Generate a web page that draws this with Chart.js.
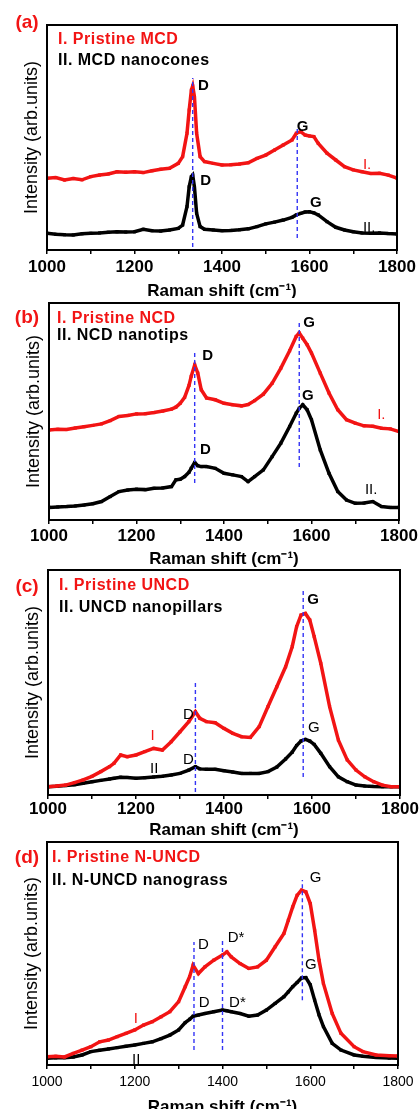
<!DOCTYPE html>
<html>
<head>
<meta charset="utf-8">
<script src="https://cdn.jsdelivr.net/npm/chart.js@4.4.0/dist/chart.umd.min.js"></script>
<style>
    html, body { margin: 0; padding: 0; background: #fff; overflow: hidden; }
    #page { position: relative; width: 420px; height: 1109px; overflow: hidden; }
    canvas { position: absolute; left: 0; }
</style>
</head>
<body>
<div id="page">
    <canvas id="chartA" width="420" height="298" style="top:0px"></canvas>
    <canvas id="chartB" width="420" height="272" style="top:296px"></canvas>
    <canvas id="chartC" width="420" height="280" style="top:563px"></canvas>
    <canvas id="chartD" width="420" height="280" style="top:834px"></canvas>
</div>
<script>
// ---- data (Raman shift in cm-1, intensity in arbitrary units, offset per curve) ----

// (a) MCD
const shiftA = [1000, 1020, 1040, 1060, 1080, 1100, 1120, 1140, 1160, 1180, 1200, 1220, 1240, 1260, 1280,
    1300, 1310, 1320, 1325, 1330, 1333, 1337, 1342, 1350, 1360, 1380, 1400, 1420, 1440, 1460, 1480, 1500,
    1520, 1540, 1560, 1570, 1580, 1590, 1600, 1610, 1620, 1640, 1660, 1680, 1700, 1720, 1740, 1760, 1780, 1800];
const pristineA = [31.9, 32.2, 31.1, 31.8, 31.2, 32.6, 33.3, 33.8, 34.8, 34.6, 34.8, 34.4, 35.2, 35.9, 36.3,
    38.5, 41.5, 51.9, 62.2, 71.1, 72.9, 68.1, 51.9, 41.5, 39.3, 38.5, 37.8, 37.9, 38.2, 38.8, 40.7, 42.2,
    44.4, 46.7, 48.9, 51.9, 52.6, 51.1, 50.7, 50.4, 47.4, 43.0, 40.0, 37.0, 35.6, 34.8, 34.0, 34.1, 33.3, 31.9];
const etchedA = [7.4, 7.0, 6.8, 6.7, 7.2, 7.4, 7.6, 7.9, 8.1, 8.0, 8.1, 9.2, 8.6, 8.4, 8.9,
    9.6, 11.1, 19.3, 28.1, 32.6, 33.3, 28.0, 16.3, 10.4, 9.2, 8.9, 8.6, 8.7, 9.0, 9.4, 10.4, 11.6,
    12.4, 13.3, 14.5, 15.6, 16.3, 16.9, 17.0, 16.5, 15.6, 12.6, 10.1, 8.9, 8.1, 7.6, 7.4, 7.6, 7.3, 7.1];
const peaksA = [1333, 1572];

// (b) NCD
const shiftB = [1000, 1020, 1040, 1060, 1080, 1100, 1120, 1140, 1160, 1180, 1200, 1220, 1240, 1260, 1280,
    1290, 1300, 1310, 1320, 1325, 1333, 1340, 1348, 1360, 1380, 1400, 1420, 1440, 1455, 1470, 1490, 1510,
    1530, 1550, 1565, 1572, 1580, 1590, 1600, 1620, 1640, 1660, 1680, 1700, 1720, 1740, 1760, 1780, 1800];
const pristineB = [41.5, 41.8, 41.7, 42.4, 43.0, 43.6, 44.3, 45.8, 47.7, 48.2, 48.9, 49.0, 49.5, 50.2, 51.1,
    52.0, 53.8, 56.5, 62.0, 66.2, 71.5, 67.7, 60.0, 56.2, 55.4, 53.8, 53.1, 52.6, 53.2, 55.0, 58.0, 63.0,
    70.0, 78.0, 84.6, 86.2, 83.8, 80.8, 76.9, 67.7, 58.5, 50.8, 46.2, 44.6, 43.4, 43.2, 42.3, 42.0, 40.8];
const etchedB = [5.8, 6.0, 6.2, 6.5, 6.9, 7.5, 8.5, 10.8, 13.1, 13.8, 14.2, 14.0, 14.6, 14.8, 15.4,
    18.5, 18.8, 20.0, 22.0, 23.8, 26.5, 25.0, 24.6, 24.6, 23.8, 21.5, 20.8, 20.0, 17.7, 20.0, 23.1, 29.2,
    35.4, 43.1, 49.2, 51.5, 53.1, 50.8, 46.2, 32.3, 21.5, 13.1, 9.2, 7.7, 7.8, 8.5, 6.2, 5.8, 5.8];
const peaksB = [1333, 1572];

// (c) UNCD
const shiftC = [1000, 1020, 1040, 1060, 1080, 1100, 1120, 1140, 1150, 1165, 1180, 1200, 1220, 1240, 1260,
    1280, 1300, 1320, 1335, 1345, 1360, 1380, 1400, 1420, 1440, 1460, 1480, 1500, 1520, 1540, 1555, 1565,
    1575, 1585, 1595, 1605, 1620, 1640, 1660, 1680, 1700, 1720, 1740, 1760, 1780, 1800];
const pristineC = [3.7, 4.0, 4.4, 5.5, 6.7, 8.3, 10.4, 12.6, 14.1, 17.8, 17.0, 17.8, 19.3, 20.7, 20.0,
    23.7, 28.1, 32.6, 37.0, 34.1, 32.6, 32.1, 29.6, 27.4, 25.9, 25.6, 30.4, 39.3, 48.1, 57.0, 65.9, 74.8,
    80.0, 80.7, 77.8, 70.4, 58.5, 39.3, 24.4, 15.6, 11.1, 8.1, 5.9, 4.4, 3.7, 3.7];
const etchedC = [3.7, 3.9, 4.2, 4.6, 5.2, 5.9, 6.5, 7.1, 7.4, 7.9, 7.8, 7.4, 7.7, 8.0, 8.3,
    8.9, 9.6, 11.1, 12.6, 11.6, 11.4, 11.4, 10.8, 10.2, 9.6, 9.6, 9.6, 10.4, 12.4, 16.0, 19.0, 22.0,
    24.0, 24.7, 24.0, 22.5, 18.5, 12.6, 8.1, 5.9, 4.4, 4.0, 3.8, 3.7, 3.7, 3.7];
const peaksC = [1335, 1580];

// (d) N-UNCD
const shiftD = [1000, 1020, 1040, 1060, 1080, 1100, 1120, 1140, 1160, 1180, 1200, 1220, 1240, 1260, 1280,
    1300, 1315, 1325, 1333, 1345, 1360, 1380, 1400, 1410, 1420, 1440, 1460, 1480, 1500, 1520, 1540, 1550,
    1560, 1570, 1580, 1590, 1600, 1610, 1620, 1630, 1650, 1670, 1700, 1720, 1750, 1780, 1800];
const pristineD = [3.7, 3.9, 3.6, 5.2, 6.7, 8.2, 10.4, 11.2, 12.7, 14.2, 15.7, 17.9, 19.4, 21.6, 23.9,
    28.4, 35.1, 39.6, 44.8, 41.0, 44.0, 47.0, 49.3, 50.7, 48.5, 45.5, 43.3, 44.0, 47.0, 53.0, 59.0, 64.9,
    70.9, 76.1, 78.4, 77.6, 72.4, 60.4, 47.0, 36.6, 23.1, 14.2, 8.2, 6.0, 4.5, 4.2, 4.0];
const etchedD = [3.0, 3.2, 3.3, 3.6, 4.5, 6.0, 6.6, 7.2, 7.8, 8.4, 9.0, 9.7, 10.4, 11.8, 13.4,
    15.7, 19.0, 20.5, 21.9, 22.4, 23.1, 23.9, 24.6, 24.3, 23.9, 23.1, 21.9, 22.4, 24.6, 27.6, 30.6, 32.8,
    35.1, 37.0, 39.0, 39.2, 36.0, 29.1, 22.5, 17.2, 9.7, 6.7, 4.5, 3.9, 3.4, 3.1, 3.0];
const peaksD = [1335, 1400, 1582];

const xTicks = [1000, 1200, 1400, 1600, 1800];

// ---- styling ----
const FONT = "'Liberation Sans', Arial, Helvetica, sans-serif";
const RED = '#f21414';
const BLACK = '#000000';
const BLUE = '#3434f5';

function curve(xs, ys, color) {
    return {
        data: xs.map((x, i) => ({ x: x, y: ys[i] })),
        borderColor: color,
        backgroundColor: color,
        borderWidth: 3.5,
        pointRadius: 2.2,
        pointStyle: 'rect',
        pointBorderWidth: 0,
        tension: 0
    };
}

// frame, dashed peak lines, legend text and peak labels
const panelDecor = {
    id: 'panelDecor',
    afterDatasetsDraw(chart, args, opts) {
        const { ctx, chartArea: area, scales: { x, y } } = chart;
        ctx.save();

        ctx.strokeStyle = BLUE;
        ctx.lineWidth = 1.4;
        ctx.setLineDash([4, 3]);
        opts.peaks.forEach(p => {
            const px = x.getPixelForValue(p.x);
            ctx.beginPath();
            ctx.moveTo(px, y.getPixelForValue(p.from));
            ctx.lineTo(px, y.getPixelForValue(p.to));
            ctx.stroke();
        });
        ctx.setLineDash([]);

        ctx.strokeStyle = BLACK;
        ctx.lineWidth = 2;
        ctx.strokeRect(area.left, area.top, area.right - area.left, area.bottom - area.top);

        ctx.textBaseline = 'middle';
        ctx.textAlign = 'left';
        opts.labels.forEach(l => {
            ctx.fillStyle = l.color;
            ctx.font = (l.bold ? 'bold ' : '') + '15px ' + FONT;
            ctx.fillText(l.text, x.getPixelForValue(l.x), y.getPixelForValue(l.y));
        });

        ctx.letterSpacing = '0.5px';
        ctx.font = 'bold 16px ' + FONT;
        ctx.fillStyle = RED;
        ctx.fillText(opts.legend[0], area.left + opts.legendDx, area.top + opts.legendDy[0]);
        ctx.fillStyle = BLACK;
        ctx.fillText(opts.legend[1], area.left + opts.legendDx, area.top + opts.legendDy[1]);
        ctx.letterSpacing = '0px';

        ctx.textAlign = 'center';
        ctx.font = 'bold 19px ' + FONT;
        ctx.fillStyle = RED;
        ctx.fillText(opts.letter, 27, area.top + opts.letterDy);
        ctx.restore();
    }
};

const panels = [
    {
        id: 'chartA', top: 0, box: { left: 47, right: 397, top: 25, bottom: 250 },
        shift: shiftA, pristine: pristineA, etched: etchedA, tickSize: 17, tickBold: true, tickPad: 3,
        decor: {
            letter: '(a)', letterDy: -2, legendDx: 11, legendDy: [15, 36],
            legend: ['I. Pristine MCD', 'II. MCD nanocones'],
            peaks: [{ x: peaksA[0], from: 1.3, to: 76.4 }, { x: peaksA[1], from: 5.3, to: 54.2 }],
            labels: [
                { text: 'D', x: 1345, y: 73.1, color: BLACK, bold: true },
                { text: 'G', x: 1571, y: 54.8, color: BLACK, bold: true },
                { text: 'D', x: 1350, y: 30.7, color: BLACK, bold: true },
                { text: 'G', x: 1601, y: 20.9, color: BLACK, bold: true },
                { text: 'I.', x: 1722, y: 37.8, color: RED, bold: false },
                { text: 'II.', x: 1722, y: 9.8, color: BLACK, bold: false }
            ]
        }
    },
    {
        id: 'chartB', top: 296, box: { left: 49, right: 399, top: 303, bottom: 520 },
        shift: shiftB, pristine: pristineB, etched: etchedB, tickSize: 17, tickBold: true, tickPad: 2,
        decor: {
            letter: '(b)', letterDy: 15, legendDx: 8, legendDy: [16, 33],
            legend: ['I. Pristine NCD', 'II. NCD nanotips'],
            peaks: [{ x: peaksB[0], from: 17.1, to: 77.4 }, { x: peaksB[1], from: 24.4, to: 92.2 }],
            labels: [
                { text: 'G', x: 1581, y: 90.8, color: BLACK, bold: true },
                { text: 'D', x: 1350, y: 75.6, color: BLACK, bold: true },
                { text: 'G', x: 1578, y: 57.1, color: BLACK, bold: true },
                { text: 'D', x: 1345, y: 32.3, color: BLACK, bold: true },
                { text: 'I.', x: 1750, y: 48.4, color: RED, bold: false },
                { text: 'II.', x: 1722, y: 13.8, color: BLACK, bold: false }
            ]
        }
    },
    {
        id: 'chartC', top: 563, box: { left: 48, right: 400, top: 570, bottom: 795 },
        shift: shiftC, pristine: pristineC, etched: etchedC, tickSize: 17, tickBold: true, tickPad: 0,
        decor: {
            letter: '(c)', letterDy: 17, legendDx: 11, legendDy: [16, 38],
            legend: ['I. Pristine UNCD', 'II. UNCD nanopillars'],
            peaks: [{ x: peaksC[0], from: 1.3, to: 49.8 }, { x: peaksC[1], from: 8, to: 91.1 }],
            labels: [
                { text: 'G', x: 1589, y: 86.7, color: BLACK, bold: true },
                { text: 'D', x: 1307, y: 35.6, color: BLACK, bold: false },
                { text: 'G', x: 1591, y: 29.8, color: BLACK, bold: false },
                { text: 'D', x: 1307, y: 15.6, color: BLACK, bold: false },
                { text: 'I', x: 1233, y: 26.2, color: RED, bold: false },
                { text: 'II', x: 1232, y: 11.6, color: BLACK, bold: false }
            ]
        }
    },
    {
        id: 'chartD', top: 834, box: { left: 47, right: 398, top: 842, bottom: 1065 },
        shift: shiftD, pristine: pristineD, etched: etchedD, tickSize: 14, tickBold: false, tickPad: 5,
        decor: {
            letter: '(d)', letterDy: 16, legendDx: 5, legendDy: [16, 39],
            legend: ['I. Pristine N-UNCD', 'II. N-UNCD nanograss'],
            peaks: [
                { x: peaksD[0], from: 6.7, to: 55.2 },
                { x: peaksD[1], from: 6.7, to: 56 },
                { x: peaksD[2], from: 29, to: 83 }
            ],
            labels: [
                { text: 'G', x: 1599, y: 83.9, color: BLACK, bold: false },
                { text: 'D', x: 1344, y: 53.8, color: BLACK, bold: false },
                { text: 'D*', x: 1412, y: 57, color: BLACK, bold: false },
                { text: 'G', x: 1588, y: 44.8, color: BLACK, bold: false },
                { text: 'D', x: 1346, y: 27.8, color: BLACK, bold: false },
                { text: 'D*', x: 1415, y: 27.8, color: BLACK, bold: false },
                { text: 'I', x: 1198, y: 20.6, color: RED, bold: false },
                { text: 'II', x: 1194, y: 2.2, color: BLACK, bold: false }
            ]
        }
    }
];

function buildPanel(p) {
    const canvas = document.getElementById(p.id);
    const ctx = canvas.getContext('2d');
    const chart = new Chart(ctx, {
        type: 'line',
        data: {
            datasets: [
                curve(p.shift, p.pristine, RED),
                curve(p.shift, p.etched, BLACK)
            ]
        },
        options: {
            responsive: false,
            animation: false,
            layout: {
                padding: { top: p.box.top - p.top, left: 18, right: 420 - p.box.right, bottom: 0 }
            },
            plugins: {
                legend: { display: false },
                tooltip: { enabled: false },
                panelDecor: p.decor
            },
            scales: {
                x: {
                    type: 'linear',
                    min: 1000,
                    max: 1800,
                    ticks: {
                        stepSize: 100,
                        autoSkip: false,
                        maxRotation: 0,
                        padding: p.tickPad,
                        color: BLACK,
                        font: { family: FONT, size: p.tickSize, weight: p.tickBold ? 'bold' : 'normal' },
                        callback: (value) => xTicks.includes(value) ? String(value) : ''
                    },
                    grid: { drawOnChartArea: false, tickLength: 4, color: BLACK, lineWidth: 1.5 },
                    border: { display: false },
                    title: {
                        display: true,
                        text: 'Raman shift (cm\u207B\u00B9)',
                        color: BLACK,
                        font: { family: FONT, size: 17, weight: 'bold' },
                        padding: { top: 1, bottom: 0 }
                    }
                },
                y: {
                    min: 0,
                    max: 100,
                    ticks: { display: false },
                    grid: { display: false, drawTicks: false },
                    border: { display: false },
                    title: {
                        display: true,
                        text: 'Intensity (arb.units)',
                        color: BLACK,
                        font: { family: FONT, size: 18 },
                        padding: { top: 4, bottom: 4 }
                    }
                }
            }
        },
        plugins: [panelDecor]
    });

    // nudge the padding so the plot frame lands on the reference frame (canvas coords)
    const area = chart.chartArea;
    const pad = chart.options.layout.padding;
    pad.left += p.box.left - area.left;
    pad.bottom += area.bottom - (p.box.bottom - p.top);
    chart.update();
    return chart;
}

document.addEventListener('DOMContentLoaded', () => {
    window.charts = panels.map(buildPanel);
});
</script>
</body>
</html>
